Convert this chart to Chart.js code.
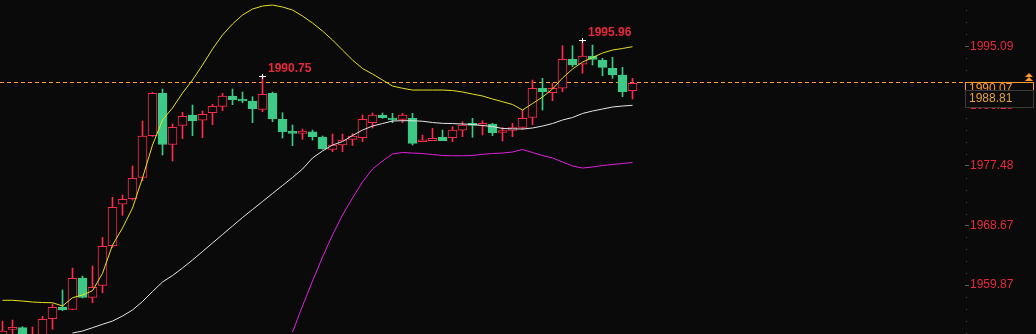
<!DOCTYPE html>
<html>
<head>
<meta charset="utf-8">
<script src="https://cdn.jsdelivr.net/npm/chart.js@4.4.1/dist/chart.umd.min.js"></script>
<style>
html, body { margin: 0; padding: 0; background: #0a0a0a; overflow: hidden; }
#wrap { width: 1036px; height: 334px; }
</style>
</head>
<body>
<div id="wrap"><canvas id="kline" width="1036" height="334"></canvas></div>
<script>
// candles, oldest first
var opens = [1952.21, 1953.35, 1953.59, 1951.48, 1951.77, 1954.91, 1956.59, 1956.30, 1960.92, 1958.07,
    1959.84, 1965.68, 1971.79, 1972.61, 1975.74, 1981.90, 1988.16, 1980.61, 1983.44, 1984.96,
    1984.18, 1985.30, 1986.24, 1987.76, 1987.17, 1987.02, 1985.77, 1988.16, 1984.32, 1982.49,
    1982.26, 1982.49, 1981.71, 1979.90, 1980.53, 1981.34, 1981.61, 1983.82, 1984.96, 1984.47,
    1984.32, 1984.47, 1981.02, 1981.17, 1981.67, 1981.61, 1982.74, 1983.63, 1983.44, 1983.63,
    1982.38, 1982.67, 1983.11, 1984.59, 1988.90, 1988.25, 1988.90, 1993.17, 1992.44, 1993.66,
    1993.07, 1991.85, 1990.86, 1988.54];
var highs = [1954.57, 1954.72, 1953.73, 1953.69, 1955.27, 1957.08, 1959.15, 1962.39, 1961.21, 1962.69,
    1966.92, 1972.82, 1973.16, 1977.44, 1984.07, 1988.31, 1988.79, 1983.63, 1985.36, 1986.43,
    1985.55, 1986.54, 1988.16, 1988.79, 1988.35, 1987.66, 1990.75, 1988.35, 1985.30, 1983.48,
    1982.89, 1982.74, 1981.86, 1982.15, 1982.15, 1982.23, 1984.96, 1985.25, 1985.25, 1985.21,
    1985.21, 1985.21, 1982.01, 1983.00, 1982.74, 1983.23, 1983.97, 1984.47, 1984.12, 1983.73,
    1983.11, 1983.73, 1985.65, 1990.12, 1990.37, 1989.63, 1995.18, 1995.18, 1995.96, 1995.28,
    1993.32, 1993.47, 1991.99, 1990.37];
var lows = [1951.77, 1952.07, 1951.48, 1951.03, 1951.03, 1953.35, 1956.09, 1956.25, 1957.98, 1957.27,
    1958.75, 1965.44, 1970.16, 1972.42, 1975.27, 1981.79, 1979.06, 1978.17, 1981.46, 1981.90,
    1981.61, 1983.53, 1985.59, 1986.48, 1986.77, 1983.82, 1985.44, 1983.97, 1981.56, 1980.43,
    1981.37, 1981.27, 1979.90, 1979.54, 1979.54, 1980.46, 1981.02, 1983.04, 1984.47, 1983.82,
    1983.82, 1980.53, 1981.02, 1981.17, 1981.17, 1981.02, 1981.76, 1981.67, 1982.01, 1981.90,
    1981.12, 1981.76, 1982.82, 1983.53, 1985.69, 1987.07, 1988.39, 1992.08, 1991.11, 1992.33,
    1990.75, 1990.37, 1987.66, 1987.32];
var closes = [1953.10, 1953.50, 1951.77, 1952.51, 1954.82, 1956.59, 1956.20, 1960.87, 1958.04, 1959.56,
    1965.59, 1971.34, 1972.52, 1975.62, 1981.86, 1988.16, 1980.61, 1983.14, 1984.77, 1984.12,
    1985.06, 1986.24, 1987.76, 1987.21, 1987.02, 1985.89, 1988.01, 1984.40, 1982.49, 1982.26,
    1982.60, 1981.76, 1979.94, 1980.53, 1981.27, 1981.86, 1984.32, 1984.96, 1984.56, 1984.22,
    1984.96, 1980.78, 1981.12, 1981.52, 1981.17, 1982.74, 1983.48, 1983.44, 1983.63, 1982.35,
    1982.60, 1983.11, 1984.47, 1988.90, 1988.39, 1988.90, 1993.17, 1992.33, 1993.66, 1993.17,
    1991.99, 1990.86, 1988.39, 1989.63];

// bollinger bands
var upperBand = [1957.63, 1957.63, 1957.52, 1957.38, 1957.30, 1957.27, 1956.79, 1958.01, 1958.41, 1959.04,
    1961.61, 1965.78, 1968.29, 1971.24, 1975.67, 1980.53, 1984.22, 1985.99, 1988.20, 1990.12,
    1992.33, 1994.69, 1996.76, 1998.38, 1999.71, 2000.59, 2001.03, 2001.18, 2000.89, 2000.44,
    1999.56, 1998.53, 1997.35, 1996.02, 1994.54, 1993.07, 1991.82, 1991.00, 1990.12, 1989.23,
    1988.90, 1988.64, 1988.64, 1988.64, 1988.64, 1988.57, 1988.35, 1988.05, 1987.76, 1987.32,
    1986.92, 1986.51, 1985.69, 1986.65, 1987.61, 1988.79, 1990.41, 1991.74, 1992.77, 1993.44,
    1994.10, 1994.54, 1994.77, 1995.03];
var midBand = [null, null, null, null, null, null, null, 1952.80, 1953.10, 1953.59,
    1954.09, 1954.57, 1955.31, 1956.20, 1957.45, 1958.92, 1960.33, 1961.28, 1962.39, 1963.57,
    1964.82, 1966.08, 1967.33, 1968.59, 1969.84, 1971.02, 1972.20, 1973.38, 1974.56, 1975.74,
    1976.99, 1978.62, 1979.65, 1980.53, 1981.05, 1981.93, 1982.74, 1983.33, 1983.70, 1984.07,
    1984.12, 1984.11, 1984.04, 1983.85, 1983.73, 1983.70, 1983.63, 1983.56, 1983.41, 1983.26,
    1982.97, 1982.92, 1982.89, 1983.04, 1983.33, 1983.70, 1984.22, 1984.59, 1985.18, 1985.55,
    1985.84, 1986.14, 1986.28, 1986.39];
var lowerBand = [null, null, null, null, null, null, null, null, null, null,
    null, null, null, null, null, null, null, null, null, null,
    null, null, null, null, null, null, null, null, null, 1952.95,
    1956.79, 1960.47, 1964.01, 1967.26, 1970.21, 1972.72, 1975.08, 1976.99, 1978.17, 1979.21,
    1979.43, 1979.35, 1979.28, 1979.13, 1978.98, 1978.95, 1978.95, 1978.98, 1979.16, 1979.28,
    1979.35, 1979.50, 1979.87, 1979.43, 1978.98, 1978.62, 1978.03, 1977.44, 1977.14, 1977.29,
    1977.51, 1977.66, 1977.80, 1977.95];

var yTicks = [1995.09, 1986.28, 1977.48, 1968.67, 1959.87];
var lastLine = 1989.8;
var lastLabel = '1990.07';
var bidLabel = '1988.81';
var markIdx = [26, 58];   // candles whose high gets a label

var BG = '#0a0a0a', RED = '#ff2b4b', GREEN = '#3dca86', TXT_RED = '#e8283e', ORANGE = '#ff9a30';
var FONT = 'Arial, "Liberation Sans", sans-serif';

var idx = opens.map(function(v, i) { return i; });
var isUp = idx.map(function(i) { return closes[i] >= opens[i]; });

function pts(arr) {
    return idx.map(function(i) { return {x: i, y: arr[i]}; });
}

var overlay = {
    id: 'overlay',
    beforeDatasetsDraw: function(chart) {
        var ctx = chart.ctx, y = chart.scales.y, a = chart.chartArea;
        var py = Math.round(y.getPixelForValue(lastLine)) + 0.5;
        ctx.save();
        ctx.strokeStyle = ORANGE;
        ctx.lineWidth = 1;
        ctx.setLineDash([4, 3]);
        ctx.beginPath();
        ctx.moveTo(a.left, py);
        ctx.lineTo(a.right, py);
        ctx.stroke();
        ctx.restore();
    },
    afterDatasetsDraw: function(chart) {
        var ctx = chart.ctx, x = chart.scales.x, y = chart.scales.y;
        ctx.save();
        markIdx.forEach(function(i) {
            var px = Math.floor(x.getPixelForValue(i));
            var py = Math.round(y.getPixelForValue(highs[i]));
            ctx.fillStyle = '#ffffff';
            ctx.fillRect(px - 3, py, 7, 1);
            ctx.fillRect(px, py - 2, 1, 5);
            ctx.fillStyle = TXT_RED;
            ctx.font = 'bold 12px ' + FONT;
            ctx.textBaseline = 'middle';
            ctx.fillText(highs[i].toFixed(2), px + 6, py - 7);
        });
        ctx.restore();
    },
    afterDraw: function(chart) {
        var ctx = chart.ctx, y = chart.scales.y, a = chart.chartArea;
        ctx.save();
        // minor ticks along the price axis
        var step = (yTicks[0] - yTicks[1]) / 5;
        ctx.fillStyle = '#4a4a4a';
        for (var n = -10; n < 40; n++) {
            if (n % 5 === 0) continue;
            var v = yTicks[0] - n * step;
            if (v > y.max || v < y.min) continue;
            ctx.fillRect(a.right + 1, Math.round(y.getPixelForValue(v)), 1, 1);
        }
        var top = Math.round(y.getPixelForValue(lastLine));
        ctx.font = '12px ' + FONT;
        ctx.textBaseline = 'middle';
        // last price box
        ctx.fillStyle = BG;
        ctx.fillRect(a.right, top, 69, 13);
        ctx.strokeStyle = ORANGE;
        ctx.strokeRect(a.right + 0.5, top + 0.5, 68, 13);
        ctx.fillStyle = ORANGE;
        ctx.fillText(lastLabel, a.right + 4, top + 7);
        // arrow icon
        ctx.beginPath();
        ctx.moveTo(1029, top - 9); ctx.lineTo(1025, top - 5); ctx.lineTo(1033, top - 5); ctx.closePath();
        ctx.moveTo(1029, top - 5); ctx.lineTo(1025, top - 1); ctx.lineTo(1033, top - 1); ctx.closePath();
        ctx.fill();
        // bid box
        ctx.fillStyle = '#0c0c0c';
        ctx.fillRect(a.right, top + 8, 69, 18);
        ctx.strokeStyle = '#3a3a3a';
        ctx.strokeRect(a.right + 0.5, top + 8.5, 68, 17);
        ctx.fillStyle = '#e6a23c';
        ctx.fillText(bidLabel, a.right + 4, top + 17);
        ctx.restore();
    }
};

new Chart(document.getElementById('kline'), {
    type: 'bar',
    data: {
        datasets: [
            {
                type: 'line', data: pts(upperBand), borderColor: '#e8e020', borderWidth: 1,
                pointRadius: 0, tension: 0, order: 1
            },
            {
                type: 'line', data: pts(midBand), borderColor: '#e6e6e6', borderWidth: 1,
                pointRadius: 0, tension: 0, order: 1
            },
            {
                type: 'line', data: pts(lowerBand), borderColor: '#e020e0', borderWidth: 1,
                pointRadius: 0, tension: 0, order: 1
            },
            {
                data: idx.map(function(i) { return {x: i, y: [opens[i], closes[i]]}; }),
                backgroundColor: idx.map(function(i) { return isUp[i] ? BG : GREEN; }),
                borderColor: idx.map(function(i) { return isUp[i] ? RED : GREEN; }),
                borderWidth: 1, borderSkipped: false, barThickness: 9, minBarLength: 2,
                grouped: false, order: 2
            },
            {
                data: idx.map(function(i) { return {x: i, y: [lows[i], highs[i]]}; }),
                backgroundColor: idx.map(function(i) { return isUp[i] ? RED : GREEN; }),
                borderWidth: 0, barThickness: 1, grouped: false, order: 3
            }
        ]
    },
    options: {
        responsive: false,
        animation: false,
        devicePixelRatio: 1,
        layout: { padding: 0 },
        plugins: { legend: { display: false }, tooltip: { enabled: false } },
        scales: {
            x: { type: 'linear', offset: false, min: -0.25, max: 96.25, display: false },
            y: {
                position: 'right', min: 1952.66, max: 2001.92,
                afterBuildTicks: function(scale) {
                    scale.ticks = yTicks.map(function(v) { return {value: v}; });
                },
                afterFit: function(scale) {
                    scale.width = 71;
                    scale.paddingTop = 0;
                    scale.paddingBottom = 0;
                },
                border: { display: false },
                grid: { drawOnChartArea: false, drawTicks: true, tickLength: 4, tickColor: '#5a5a5a' },
                ticks: {
                    color: TXT_RED, padding: 1, font: { family: FONT, size: 12 },
                    callback: function(v) { return v.toFixed(2); }
                }
            }
        }
    },
    plugins: [overlay]
});
</script>
</body>
</html>
